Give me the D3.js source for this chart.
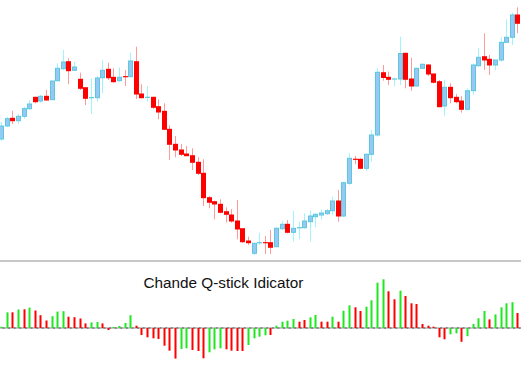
<!DOCTYPE html>
<html><head><meta charset="utf-8">
<script src="https://cdn.jsdelivr.net/npm/d3@7"></script>
<style>html,body{margin:0;padding:0;background:#fff;}svg{display:block;}</style>
</head><body>
<script>
// Candle data (price units)
const openV  = [121,134,141.7,139.3,143.7,151.3,162.7,159,163.7,160.3,179.3,191.3,198.3,189.7,180.7,172.3,162.2,162.3,182.3,190.7,182.7,179.3,183.4,183.3,198.3,166,162.6,162.7,153.3,148.7,130.7,115.7,110,106,104.3,97.7,86.7,62.3,58.3,55.7,48.3,45,39,31.3,19,6.7,17.2,17.4,17.3,13.3,31.3,35.7,27.7,32.2,32.3,38.3,43.3,45,46.3,49.3,59,44,76.7,100.8,100.7,91.7,105.7,125,187.3,182.7,180.9,181,206.7,181,174,191.7,195,186,178.3,154,172.7,162.7,159,150.7,169.3,194.3,203.3,200.7,195,200,217.7,222.7,245];
const closeV = [134,141.3,139.3,143.7,151.3,156,158.3,163.7,160,179,191.7,198,189.3,193,171.7,161.7,162.4,182,189.7,182.3,178.3,182.7,183.2,199,166,162.3,162.8,152.7,148,130.7,115.7,110,105.7,104.3,97.7,86.7,62.3,57.7,56,47.7,45.7,39,31,18.3,17.3,16.7,17.4,17.2,12.7,31.7,35.7,27.7,31.7,32.4,39,44,45.7,47,49.3,59,44,77.3,101.7,100.6,91.7,105.7,125,187.7,182.5,180.7,181.1,206.5,180.7,174,191.7,195.7,186,177.7,153.3,172.7,162.3,158.3,150.7,169.3,195,202.7,200,195,200,217.7,222.7,245,236.7];
const highV  = [138,143,149.3,146,153.3,160,163.3,165,170,179,196.7,210,201.7,198,187.3,172.3,181.7,184,199.7,197.3,191.7,192.7,190,207.3,213.3,175.7,174,163.3,160.7,156.7,134.7,124,116,114,111.7,102.7,100.7,64,59.3,60.7,52.7,51,60,31.3,23.3,17,27,24,30,33,39.3,40,49.3,38.3,46.7,49.3,46.7,50.7,51,63.3,70,78.3,106.7,104,101.7,106.7,130,191.7,195,188.5,182.3,223.3,207.3,202.3,192.3,196.7,195.7,186.7,180,180,176.7,166,164,171.7,196.7,211.7,226.7,205,200,222.7,240.7,247.3,252.7];
const lowV   = [119,133,136,136,141.3,150,156.7,157.3,159.3,160,178.3,190,175.7,189.3,170,155,146,158.3,166.7,180,177.3,178,174,183,161,161.7,158.3,151,140.7,130,100,102.7,104,104,90,85,54,51.7,40.7,46.7,37.3,37.3,20.7,17,15,5,15,6,6,13,30,26.7,18.3,20.7,31.3,18.3,32.7,40.7,45,45,38.3,42.7,75,95.7,90.7,89.3,98.3,123.3,179.3,175,173.7,175,171.7,169.3,173.3,191,184,176.7,152.7,144,156.7,156.7,147.3,149.3,165,193.3,190,185,190,198.3,216.7,215,226.7];
// Q-stick histogram values and colours (1 = rising/green, 0 = falling/red)
const qstick = [1.3,15.7,15.7,18.5,18.7,20.4,17.5,12.8,7.5,11.8,16.4,16.8,11.3,10.8,9.5,4.6,5.6,6,4.6,-2,1,2,5,12.8,2.3,-7,-9.3,-10.3,-11,-17.7,-22.7,-30.6,-21,-20.3,-22,-23,-30.3,-24.3,-21.3,-20.3,-21.3,-22.7,-23,-23,-17,-10.3,-8.7,-7.3,-7,2.3,6.3,7.3,9,6.3,8,10.7,13,6.3,6.3,11.3,6.3,17.3,22.7,20.7,17,21.3,27.7,45.3,48.7,36.7,28.7,37.3,32,24.7,24,4,2.3,1.3,-9.3,-11.3,-6.3,-5.3,-13.8,-8.2,4,9.7,17,8.6,13.6,20.7,24.7,25.8,15];
const qUp    = [1,1,0,1,0,1,0,0,0,1,1,1,0,0,0,0,1,1,0,0,1,1,1,1,0,0,0,0,0,0,0,0,1,1,0,0,0,1,1,1,0,0,0,0,1,1,1,1,0,1,1,1,1,0,0,1,1,0,0,1,0,1,1,0,0,1,1,1,1,0,0,1,0,0,0,0,0,0,0,0,1,1,0,1,1,1,1,0,1,1,1,1,0];
const titleText = "Chande Q-stick Idicator";

const W = 521, H = 367;
const svg = d3.select("body").append("svg").attr("width", W).attr("height", H);

const n = openV.length;
const x = d3.scaleLinear().domain([0, n - 1]).range([1.1, 517.4]);
const y = d3.scaleLinear().domain([0, 260]).range([260, 0]);
const yq = d3.scaleLinear().domain([-40, 66]).range([368, 262]);

const candles = d3.range(n).map(i => ({i, o: openV[i], c: closeV[i], h: highV[i], l: lowV[i]}));

// wicks
svg.append("g").selectAll("line").data(candles).join("line")
  .attr("x1", d => Math.round(x(d.i)) + 0.5).attr("x2", d => Math.round(x(d.i)) + 0.5)
  .attr("y1", d => y(d.h)).attr("y2", d => y(d.l))
  .attr("stroke", d => d.c >= d.o ? "#9ff5fb" : "#ff9a9a").attr("stroke-width", 1);

// bodies
const bodies = svg.append("g");
candles.forEach(d => {
  const cx = Math.round(x(d.i)) + 0.5;
  const top = y(Math.max(d.o, d.c)), bot = y(Math.min(d.o, d.c));
  const bull = d.c >= d.o;
  if (bot - top < 1.2) {
    bodies.append("line").attr("x1", cx - 2.5).attr("x2", cx + 2.5)
      .attr("y1", (top + bot) / 2).attr("y2", (top + bot) / 2)
      .attr("stroke", bull ? "#5cc8dc" : "#ff0000").attr("stroke-width", 1.2);
  } else if (bull) {
    bodies.append("rect").attr("x", cx - 2).attr("width", 4)
      .attr("y", top).attr("height", bot - top)
      .attr("fill", "#96c8f6").attr("stroke", "#5cc8dc").attr("stroke-width", 1);
  } else {
    bodies.append("rect").attr("x", cx - 2.5).attr("width", 5)
      .attr("y", top - 0.5).attr("height", bot - top + 1)
      .attr("fill", "#ff0000");
  }
});

// separator
svg.append("line").attr("x1", 0).attr("x2", W).attr("y1", 261).attr("y2", 261)
  .attr("stroke", "#c8c8c8").attr("stroke-width", 2);

// title
svg.append("text").attr("x", 143.5).attr("y", 287.5)
  .attr("font-family", "'Liberation Sans', Arial, sans-serif").attr("font-size", 15.3)
  .attr("fill", "#111").text(titleText);

// zero line
svg.append("line").attr("x1", 0).attr("x2", W).attr("y1", yq(0)).attr("y2", yq(0))
  .attr("stroke", "#b4b4b4").attr("stroke-width", 1.6);
svg.append("line").attr("x1", 2.5).attr("x2", W).attr("y1", yq(0)).attr("y2", yq(0))
  .attr("stroke", "#7a7a7a").attr("stroke-width", 1.6).attr("stroke-dasharray", "2,3.61");

// histogram
svg.append("g").selectAll("rect").data(qstick).join("rect")
  .attr("x", (d, i) => Math.round(x(i)) - 0.5).attr("width", 2)
  .attr("y", d => yq(Math.max(0, d))).attr("height", d => Math.abs(yq(d) - yq(0)))
  .attr("fill", (d, i) => qUp[i] ? "#1ee81e" : "#ff0000");
</script>
</body></html>
